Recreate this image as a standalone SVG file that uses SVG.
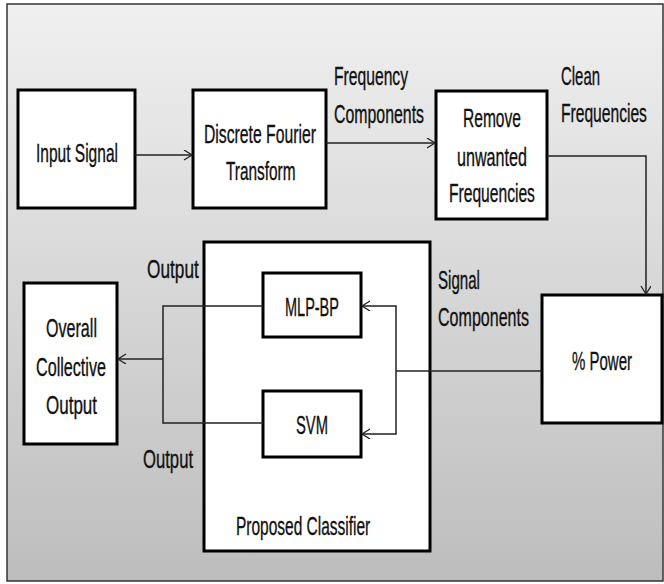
<svg xmlns="http://www.w3.org/2000/svg" width="664" height="584" viewBox="0 0 664 584">
<defs>
<linearGradient id="bg" x1="0" y1="0" x2="0" y2="1">
<stop offset="0" stop-color="#f0f0f0"/>
<stop offset="1" stop-color="#bdbdbd"/>
</linearGradient>
<marker id="arr" markerUnits="userSpaceOnUse" markerWidth="12" markerHeight="12" refX="9" refY="5" orient="auto">
<path d="M1,0 L9,5 L1,10" fill="none" stroke="#222" stroke-width="1.3"/>
</marker>
<style>
.box{fill:#fff;stroke:#000;stroke-width:3}
.t{font-family:"Liberation Sans",Arial,sans-serif;font-size:25px;fill:#111;stroke:#111;stroke-width:0.35}
.c{fill:none;stroke:#222;stroke-width:1.5}
</style>
</defs>
<rect x="0" y="0" width="664" height="584" fill="#fff"/>
<rect id="frame" x="7" y="4" width="656" height="577" fill="url(#bg)" stroke="#333" stroke-width="1.5"/>

<g id="input-signal">
<rect class="box" x="18" y="90" width="117" height="118"/>
<text class="t" transform="matrix(0.621 0 0 1 36 162)">Input Signal</text>
</g>
<g id="dft">
<rect class="box" x="193" y="90" width="133" height="118"/>
<text class="t" transform="matrix(0.63 0 0 1 204 143)">Discrete Fourier</text>
<text class="t" transform="matrix(0.615 0 0 1 226 180)">Transform</text>
</g>
<g id="remove">
<rect class="box" x="436" y="91" width="111" height="128"/>
<text class="t" transform="matrix(0.623 0 0 1 463 127)">Remove</text>
<text class="t" transform="matrix(0.646 0 0 1 457 166)">unwanted</text>
<text class="t" transform="matrix(0.625 0 0 1 449 202)">Frequencies</text>
</g>
<g id="power">
<rect class="box" x="542" y="295" width="120" height="128"/>
<text class="t" transform="matrix(0.6 0 0 1 572 370)">% Power</text>
</g>
<g id="classifier">
<rect class="box" x="204" y="242" width="226" height="309"/>
<text class="t" transform="matrix(0.62 0 0 1 236 535)">Proposed Classifier</text>
</g>
<g id="mlp">
<rect class="box" x="263" y="273" width="98" height="64"/>
<text class="t" transform="matrix(0.58 0 0 1 285 316)">MLP-BP</text>
</g>
<g id="svm">
<rect class="box" x="263" y="391" width="98" height="66"/>
<text class="t" transform="matrix(0.59 0 0 1 296 434)">SVM</text>
</g>
<g id="overall">
<rect class="box" x="24" y="283" width="93" height="161"/>
<text class="t" transform="matrix(0.644 0 0 1 46 337)">Overall</text>
<text class="t" transform="matrix(0.646 0 0 1 36 376)">Collective</text>
<text class="t" transform="matrix(0.68 0 0 1 46 414)">Output</text>
</g>

<g id="connectors">
<path class="c" d="M135,155 H192" marker-end="url(#arr)"/>
<path class="c" d="M326,143 H435" marker-end="url(#arr)"/>
<path class="c" d="M547,156 H646 V294" marker-end="url(#arr)"/>
<path class="c" d="M542,371 H396"/>
<path class="c" d="M396,371 V306 H362" marker-end="url(#arr)"/>
<path class="c" d="M396,371 V434 H362" marker-end="url(#arr)"/>
<path class="c" d="M263,306 H163 V423 H263"/>
<path class="c" d="M163,359 H118" marker-end="url(#arr)"/>
</g>

<g id="labels">
<text class="t" transform="matrix(0.627 0 0 1 334 85)">Frequency</text>
<text class="t" transform="matrix(0.635 0 0 1 334 123)">Components</text>
<text class="t" transform="matrix(0.597 0 0 1 561 85)">Clean</text>
<text class="t" transform="matrix(0.625 0 0 1 561 122)">Frequencies</text>
<text class="t" transform="matrix(0.604 0 0 1 438 289)">Signal</text>
<text class="t" transform="matrix(0.642 0 0 1 438 326)">Components</text>
<text class="t" transform="matrix(0.69 0 0 1 147 278)">Output</text>
<text class="t" transform="matrix(0.667 0 0 1 143 468)">Output</text>
</g>
</svg>
